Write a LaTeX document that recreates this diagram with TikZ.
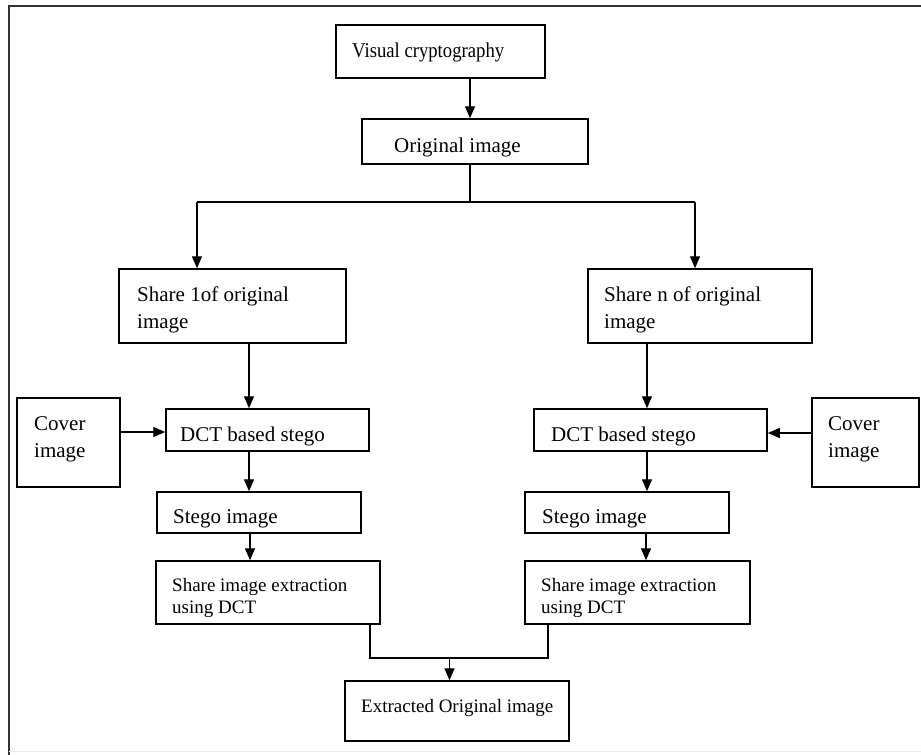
\documentclass[tikz,border=0pt]{standalone}
\usepackage{fontspec}
\setmainfont{Liberation Serif}
\newfontfamily\condserif{Liberation Serif}[FakeStretch=0.89]
\usetikzlibrary{arrows.meta}
\tikzset{
  box/.style={draw=black, line width=1.5pt, inner sep=0pt, fill=none},
  lbl/.style={anchor=base west, inner sep=0pt, align=left},
  big/.style={font=\fontsize{21}{27}\selectfont},
  small/.style={font=\fontsize{19}{22}\selectfont},
  cond/.style={font=\condserif\fontsize{21}{27}\selectfont},
  conn/.style={draw=black, line width=1.4pt},
  arr/.style={conn, -{Triangle[length=12pt,width=10pt]}},
}
\begin{document}
\begin{tikzpicture}[x=1pt,y=-1pt]
\useasboundingbox (0,0) rectangle (921,755);
\fill[white] (0,0) rectangle (921,755);
% frame
\draw[line width=2pt, draw=black!80] (9,755) -- (9,5.5) -- (921,5.5);
\draw[line width=1pt, draw=black!8] (9,751) -- (921,751);

% boxes
\node[box, minimum width=209pt, minimum height=53pt] (vc) at (440.5,51.5) {};
\node[box, minimum width=226pt, minimum height=45pt] (oi) at (475,141.5) {};
\node[box, minimum width=227pt, minimum height=74pt] (s1) at (232.5,306) {};
\node[box, minimum width=224pt, minimum height=74pt] (sn) at (700,306) {};
\node[box, minimum width=103pt, minimum height=89pt] (cl) at (68.5,442.5) {};
\node[box, minimum width=203pt, minimum height=42pt] (dl) at (267.5,430) {};
\node[box, minimum width=233pt, minimum height=42pt] (dr) at (650.5,430) {};
\node[box, minimum width=107pt, minimum height=89pt] (cr) at (865.5,442.5) {};
\node[box, minimum width=204pt, minimum height=41pt] (sl) at (259,512.5) {};
\node[box, minimum width=204pt, minimum height=41pt] (sr) at (627,512.5) {};
\node[box, minimum width=224pt, minimum height=63pt] (el) at (268,592.5) {};
\node[box, minimum width=225pt, minimum height=63pt] (er) at (637.5,592.5) {};
\node[box, minimum width=224pt, minimum height=60pt] (ex) at (457,711) {};

% texts (base anchor of multi-line text = last line)
\node[lbl, cond] (tvc) at (352,57) {Visual cryptography};
\node[lbl, big] (toi) at (394,152) {Original image};
\node[lbl, big] (ts1) at (137,328) {Share 1of original\\image};
\node[lbl, big] (tsn) at (604,328) {Share n of original\\image};
\node[lbl, big] (tcl) at (34,457) {Cover\\image};
\node[lbl, big] (tdl) at (180,441) {DCT based stego};
\node[lbl, big] (tdr) at (551,441) {DCT based stego};
\node[lbl, big] (tcr) at (828,457) {Cover\\image};
\node[lbl, big] (tsl) at (173,523) {Stego image};
\node[lbl, big] (tsr) at (542,523) {Stego image};
\node[lbl, small] (tel) at (172,613) {Share image extraction\\using DCT};
\node[lbl, small] (ter) at (541,613) {Share image extraction\\using DCT};
\node[lbl, small] (tex) at (361,712) {Extracted Original image};

% connector coordinates
\coordinate (c0) at (470,0);
\coordinate (bj) at (470,202);
\coordinate (bl) at (197,202);
\coordinate (br) at (695,202);
\coordinate (xl) at (249,0);
\coordinate (xl2) at (250,0);
\coordinate (xr) at (647,0);
\coordinate (xr2) at (646,0);
\coordinate (yl) at (0,432);
\coordinate (yr) at (0,433);
\coordinate (ml) at (370,658);
\coordinate (mr) at (548,658);
\coordinate (mj) at (449.5,658);

% connectors
\draw[arr] (vc.south -| c0) -- (oi.north -| c0);
\draw[conn] (oi.south -| bj) -- (bj);
\draw[conn] (bl) -- (br);
\draw[arr] (bl) -- (bl |- s1.north);
\draw[arr] (br) -- (br |- sn.north);
\draw[arr] (s1.south -| xl) -- (dl.north -| xl);
\draw[arr] (sn.south -| xr) -- (dr.north -| xr);
\draw[arr] (cl.east |- yl) -- (dl.west |- yl);
\draw[arr] (cr.west |- yr) -- (dr.east |- yr);
\draw[arr] (dl.south -| xl) -- (sl.north -| xl);
\draw[arr] (dr.south -| xr) -- (sr.north -| xr);
\draw[arr] (sl.south -| xl2) -- (el.north -| xl2);
\draw[arr] (sr.south -| xr2) -- (er.north -| xr2);
\draw[conn] (el.south -| ml) -- (ml) -- (mr) -- (er.south -| mr);
\draw[arr] (mj) -- (ex.north -| mj);
\end{tikzpicture}
\end{document}
